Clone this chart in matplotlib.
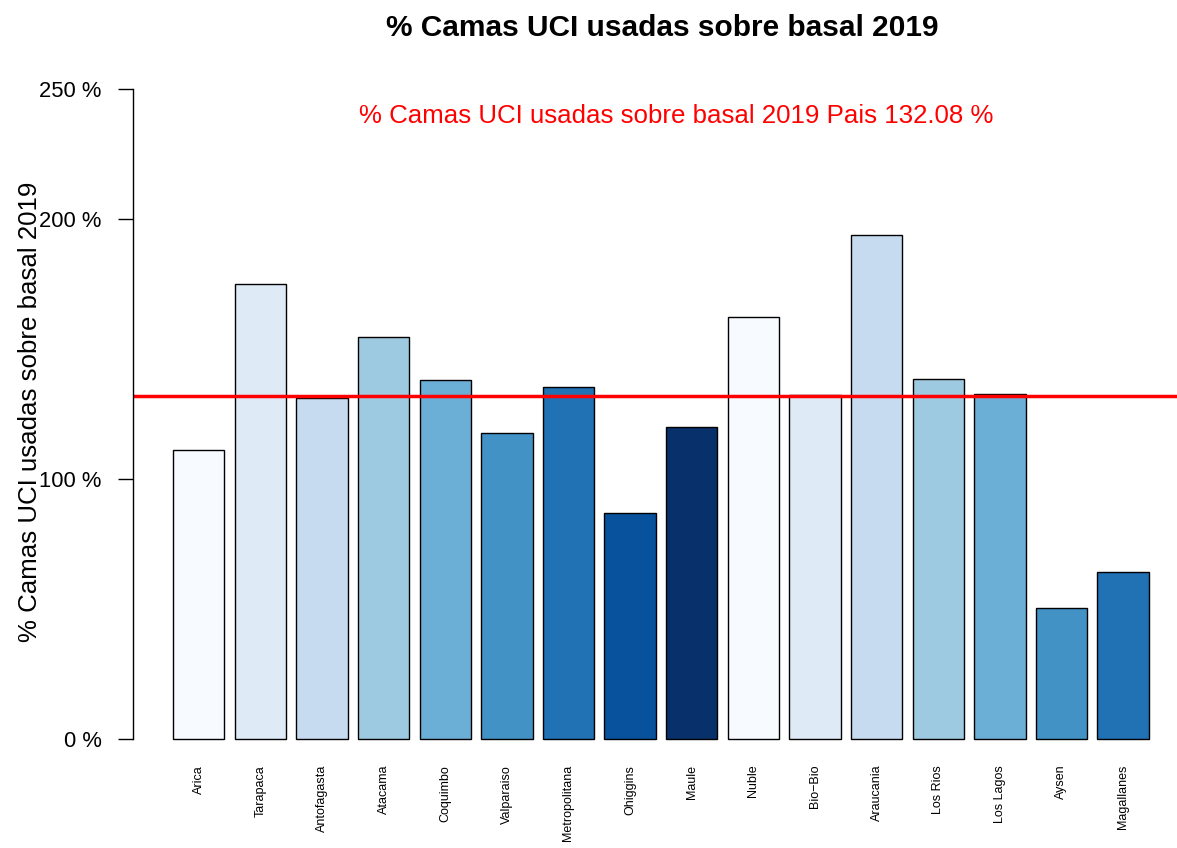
import numpy as np
import matplotlib.pyplot as plt

# % camas UCI usadas sobre basal 2019, por region
regiones = ['Arica', 'Tarapaca', 'Antofagasta', 'Atacama', 'Coquimbo',
            'Valparaiso', 'Metropolitana', 'Ohiggins', 'Maule', 'Nuble',
            'Bio\u2212Bio', 'Araucania', 'Los Rios', 'Los Lagos', 'Aysen',
            'Magallanes']
porcentaje = [111.2, 175.0, 131.2, 154.6, 138.1, 117.7, 135.4, 86.9,
              120.0, 162.3, 132.3, 193.8, 138.5, 132.7, 50.4, 64.2]
pais = 132.08
y_ticks = [0, 100, 200, 250]

# paleta Blues (RColorBrewer, 9 colores, reciclada)
blues = ['#F7FBFF', '#DEEBF7', '#C6DBEF', '#9ECAE1', '#6BAED6',
         '#4292C6', '#2171B5', '#08519C', '#08306B']
colores = [blues[i % len(blues)] for i in range(len(regiones))]

plt.rcParams['font.family'] = ['Liberation Sans', 'DejaVu Sans']

fig = plt.figure(figsize=(11.77, 8.48), dpi=100)
ax = fig.add_axes([133/1177, 1 - 760/848, 1 - 133/1177, (760 - 70)/848])

x = 0.2 + 0.5 + 1.2 * np.arange(len(regiones))
ax.bar(x, porcentaje, width=1.0, color=colores, edgecolor='black', linewidth=1.0)
ax.axhline(pais, color='red', linewidth=2.5)

ax.set_xlim(-0.58, 19.75)
ax.set_ylim(-21/2.6, 250 + 19/2.6)

for s in ['top', 'right', 'bottom']:
    ax.spines[s].set_visible(False)
ax.spines['left'].set_bounds(0, 250)
ax.spines['left'].set_linewidth(1.0)
ax.set_yticks(y_ticks)
ax.set_yticklabels(['%d %%' % v for v in y_ticks], fontsize=15.8)
ax.tick_params(axis='y', length=11, width=1.0, pad=11.5)

ax.set_xticks(x)
ax.set_xticklabels(regiones, rotation=90, fontsize=9, va='top')
ax.tick_params(axis='x', length=0, pad=3.5)

fig.text(30/1177, 1 - 412/848, '% Camas UCI usadas sobre basal 2019',
         fontsize=18.6, rotation=90, ha='center', va='center')
fig.text(662/1177, 1 - 28/848, '% Camas UCI usadas sobre basal 2019',
         fontsize=21.5, fontweight='bold', ha='center', va='center')
fig.text(676/1177, 1 - 116/848,
         '%% Camas UCI usadas sobre basal 2019 Pais %.2f %%' % pais,
         fontsize=18.6, color='red', ha='center', va='center')

fig.savefig('out.png', dpi=100)
